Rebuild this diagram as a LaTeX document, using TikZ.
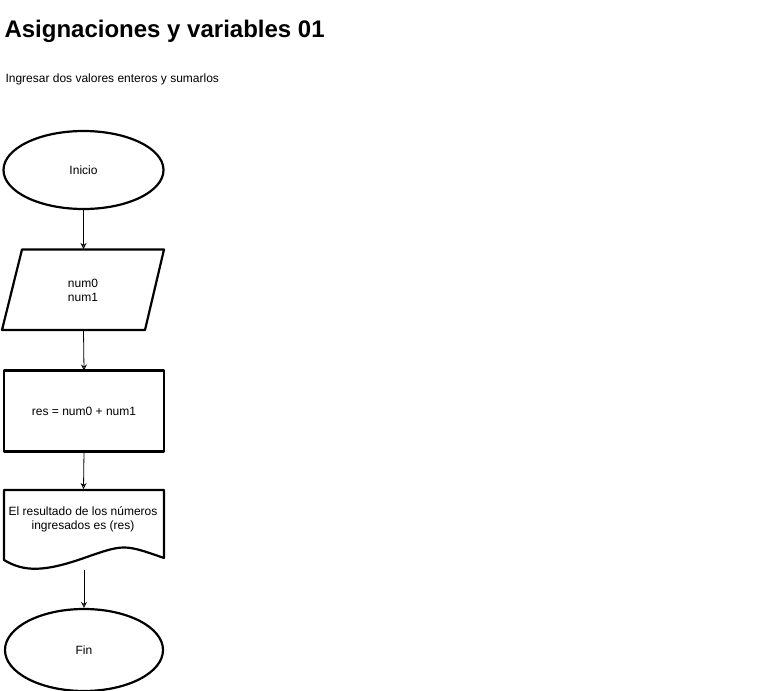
\documentclass[tikz,border=0pt]{standalone}
\usepackage{fontspec}
\setmainfont{Liberation Sans}
\usetikzlibrary{shapes.geometric,arrows.meta}
\begin{document}
\begin{tikzpicture}[x=1pt,y=-1pt,
  shapeline/.style={draw=black,line width=2.2pt,line join=round},
  conn/.style={draw=black,line width=0.8pt,-{Stealth[open,length=6pt,width=6pt]}},
  lbl/.style={font=\fontsize{12}{14}\selectfont,align=center,text=black},
  box/.style={inner sep=0pt,outer sep=0pt,minimum width=160pt,minimum height=80pt}]
\useasboundingbox (0,0) rectangle (764,691);
\node[anchor=west,font=\bfseries\fontsize{24}{28}\selectfont] (title) at (1,31) {Asignaciones y variables 01};
\node[anchor=west,font=\fontsize{12}{14}\selectfont] (sub) at (2,79.5) {Ingresar dos valores enteros y sumarlos};
% Inicio
\node[ellipse,shapeline,minimum width=160pt,minimum height=78pt,inner sep=0pt,lbl] (inicio) at (83.5,170) {Inicio};
% input parallelogram
\node[box,lbl] (inp) at (83,290.5) {num0\\num1};
\draw[shapeline] (22,249.5) -- (164,249.5) -- (145,330) -- (2,330) -- cycle;
% process
\node[box,shapeline,minimum width=160pt,minimum height=81pt,lbl] (proc) at (84,411) {res = num0 + num1};
% document
\node[box,lbl,minimum height=80pt] (doc) at (84,530) {};
\node[lbl] (doctext) at (83,519.5) {El resultado de los números\\ingresados es (res)};
\draw[shapeline] (4,490) -- (164,490) -- (164,558)
  .. controls (124,544) .. (84,558)
  .. controls (44,572) and (24,572) .. (4,560) -- cycle;
% Fin
\node[ellipse,shapeline,minimum width=158pt,minimum height=82pt,inner sep=0pt,lbl] (fin) at (84,650) {Fin};
% connectors
\draw[conn] (inicio.south) -- (83.5,249);
\draw[conn] (83.5,330) -- (proc.north);
\draw[conn] (proc.south) -- (83.5,489);
\draw[conn] (84,570) -- (fin.north);
\end{tikzpicture}
\end{document}
